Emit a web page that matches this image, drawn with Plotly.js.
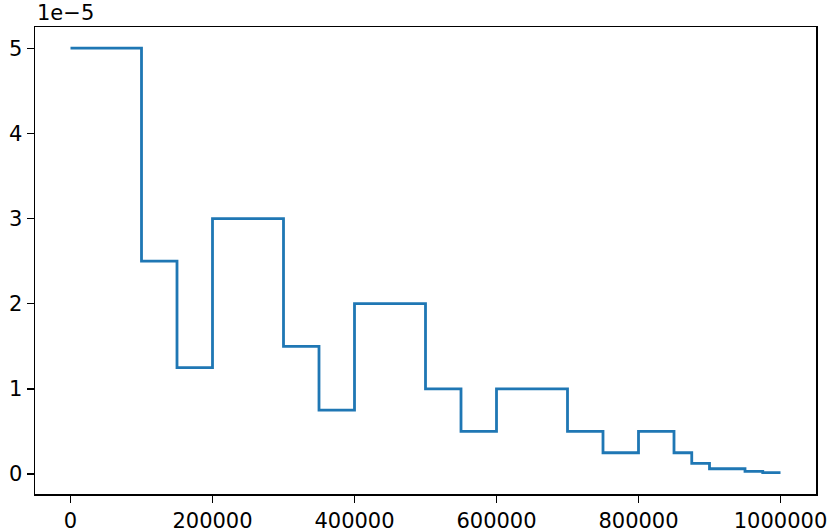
<!DOCTYPE html>
<html>
<head>
<meta charset="utf-8">
<script src="https://cdn.plot.ly/plotly-3.0.1.min.js"></script>
<style>
  html, body { margin: 0; padding: 0; background: #fff; }
  #graph_container { width: 831px; height: 532px; }
</style>
</head>
<body>
<div id="graph_container"></div>
<script>
// step boundaries (training steps) and learning rate held from each boundary
var steps = [0, 100000, 150000, 200000, 300000, 350000, 400000, 500000, 550000, 600000,
             700000, 750000, 800000, 850000, 875000, 900000, 950000, 975000, 1000000];
var lr = [5e-5, 2.5e-5, 1.25e-5, 3e-5, 1.5e-5, 0.75e-5, 2e-5, 1e-5, 0.5e-5, 1e-5,
          0.5e-5, 0.25e-5, 0.5e-5, 0.25e-5, 0.125e-5, 0.0625e-5, 0.03125e-5, 0.015625e-5, 0.015625e-5];

var xTicks = [0, 200000, 400000, 600000, 800000, 1000000];
var yTickLabels = ['0', '1', '2', '3', '4', '5'];
var yTicks = yTickLabels.map(function (t) { return Number(t) * 1e-5; });

var schedule = {
    x: steps,
    y: lr,
    type: 'scatter',
    mode: 'lines',
    line: { shape: 'hv', color: '#1f77b4', width: 2.8 },
    hoverinfo: 'x+y'
};

var axisStyle = {
    showline: true,
    mirror: true,
    linecolor: '#000',
    linewidth: 1.5,
    ticks: 'outside',
    ticklen: 7,
    tickwidth: 1.3,
    tickcolor: '#000',
    showgrid: false,
    zeroline: false,
    automargin: false,
    tickfont: { family: 'DejaVu Sans', size: 21, color: '#000' }
};

var layout = {
    width: 831,
    height: 532,
    margin: { l: 35, r: 15, t: 27, b: 38 },
    paper_bgcolor: '#fff',
    plot_bgcolor: '#fff',
    showlegend: false,
    xaxis: Object.assign({}, axisStyle, {
        range: [-50000, 1050000],
        tickmode: 'array',
        tickvals: xTicks,
        ticktext: xTicks.map(String)
    }),
    yaxis: Object.assign({}, axisStyle, {
        range: [-0.2342e-5, 5.2492e-5],
        tickmode: 'array',
        tickvals: yTicks,
        ticktext: yTickLabels
    }),
    annotations: [{
        text: '1e\u22125',
        xref: 'paper', yref: 'paper',
        x: 0, y: 1,
        xanchor: 'left', yanchor: 'bottom',
        yshift: 0,
        showarrow: false,
        font: { family: 'DejaVu Sans', size: 21, color: '#000' }
    }]
};

Plotly.newPlot('graph_container', [schedule], layout, { displayModeBar: false, staticPlot: true });
</script>
</body>
</html>
